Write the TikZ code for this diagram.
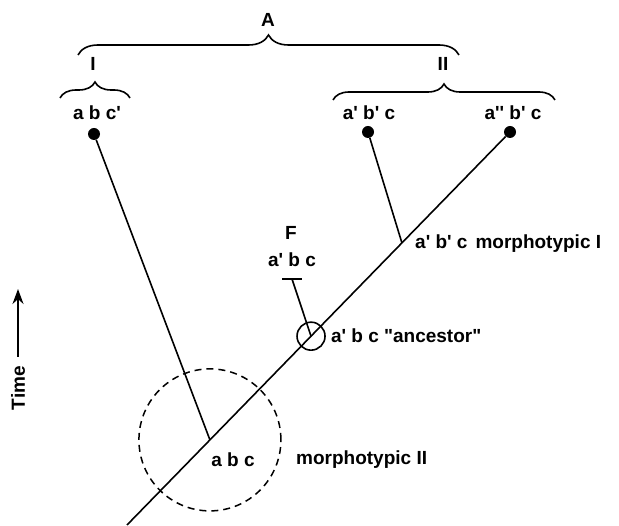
\documentclass[tikz,border=0pt]{standalone}
\usepackage{fontspec}
\setmainfont{Liberation Sans}[Ligatures=TeXOff]
\usetikzlibrary{arrows.meta, calc, positioning, decorations.pathreplacing}

\begin{document}
\begin{tikzpicture}[
    x=1pt, y=-1pt,
    lbl/.style={font=\bfseries\fontsize{19}{21}\selectfont, inner sep=1pt},
    dot/.style={circle, fill, inner sep=0pt, minimum size=12pt},
    branch/.style={line width=1.6pt},
    curly/.style={decorate, decoration={brace, amplitude=#1}, line width=1.6pt}
]
    \useasboundingbox (0,0) rectangle (619,526);

    % taxa at the top
    \node[dot] (d1) at (94,134) {};
    \node[dot] (d2) at (368,132) {};
    \node[dot] (d3) at (510,132) {};
    \node[lbl] (t1) at (97,113) {a b c'};
    \node[lbl] (t2) at (369,113) {a' b' c};
    \node[lbl] (t3) at (513,113) {a'' b' c};

    % groups
    \node[lbl] (gA) at (268,20) {A};
    \node[lbl] (gI) at (93,64) {I};
    \node[lbl] (gII) at (443,64) {II};
    \draw[curly=20pt] (78,55) -- (459,55);
    \draw[curly=16pt] (60,98) -- (130,98);
    \draw[curly=16pt] (333,100) -- (555,100);

    % main lineage
    \coordinate (root) at (127,525);
    \path (root) -- (d3) coordinate[pos=0.219] (abc)
                         coordinate[pos=0.486] (anc)
                         coordinate[pos=0.726] (split);
    \draw[branch] (root) -- (d3);
    \draw[branch] (d1) -- (abc);
    \draw[branch] (d2) -- (split);

    % morphotypic II field
    \node[draw, circle, line width=1.5pt, dash pattern=on 7pt off 5pt,
          minimum size=142pt] (field) at (abc) {};
    \node[lbl] (abcl) at (233,460) {a b c};
    \node[lbl, anchor=west] (morphII) at (295,460) {morphotypic II};

    % ancestor
    \node[draw, circle, branch, minimum size=28pt] (ring) at (anc) {};
    \node[lbl, right=4pt of ring] (ancl) {a' b c "ancestor"};
    \node[lbl, anchor=west] (morphI) at (414,244) {a' b' c\hspace{8pt}morphotypic I};

    % F
    \node[lbl] (gF) at (291,233) {F};
    \node[lbl] (Fl) at (292,260) {a' b c};
    \coordinate (Fbar) at (292,279);
    \draw[branch] ($(Fbar)+(-10,0)$) -- ($(Fbar)+(10,0)$);
    \draw[branch] (Fbar) -- (anc);

    % time axis
    \node[lbl, rotate=90] (time) at (18,388) {Time};
    \coordinate (tip) at (18,289);
    \draw[branch, -{Stealth[length=15pt, width=11pt]}, shorten <=8pt] (time) -- (tip);
\end{tikzpicture}
\end{document}
